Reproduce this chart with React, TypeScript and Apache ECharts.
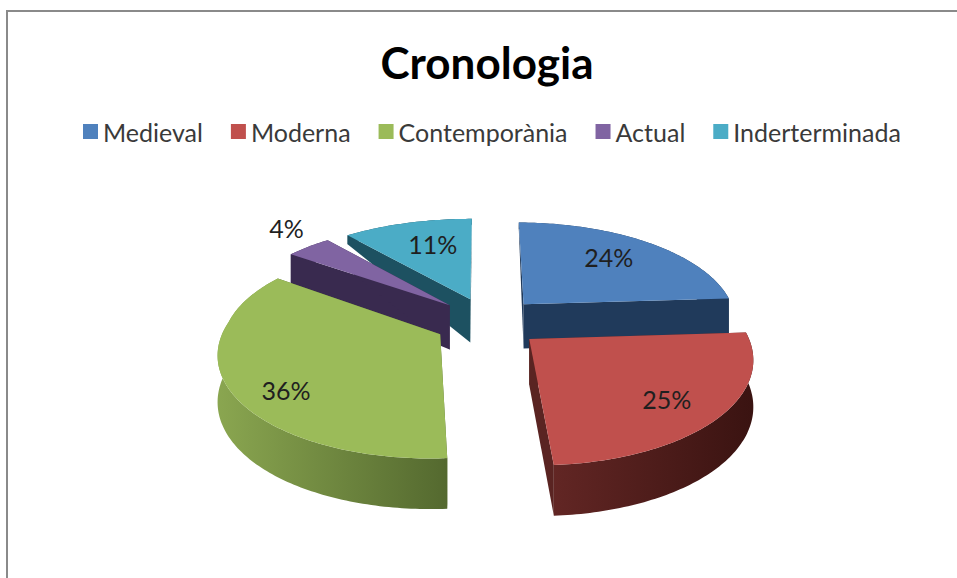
import React, { useEffect, useRef } from "react";
import * as echarts from "echarts";

const titleText = "Cronologia";
const categories = ["Medieval", "Moderna", "Contemporània", "Actual", "Inderterminada"];
const values = [24, 25, 36, 4, 11];

const topColors = ["#4F81BD", "#C0504D", "#9BBB59", "#8064A2", "#4BACC6"];
const cutWallColors = ["#203A5B", "#5A2422", "#54692F", "#392A4F", "#1D5161"];
const rimColors = [
  ["#203A5B", "#1B3250"],
  ["#622624", "#3A1311"],
  ["#8AA650", "#54692F"],
  ["#392A4F", "#392A4F"],
  ["#1D5161", "#1D5161"],
];
const paintOrder = [4, 5, 3, 2, 1];
const labelAngleShift = [-3, 1.5, -9, 4, 3];
const labelRadius = [0.71, 0.76, 0.8, 1.27, 0.68];

const FONT = "Lato, Carlito, 'Open Sans', sans-serif";
const CX = 488, CY = 322, RX = 214, RY = 100, PERSP = 0.16, PERSP_BACK_X = 0.1, EXPLODE = 0.25;

const total = values.reduce((a, b) => a + b, 0);
const rad = (d: number) => (d * Math.PI) / 180;

function project(u: number, v: number): [number, number] {
  const s = 1 / (1 + PERSP * v);
  const sx = v > 0 && u < 0 ? 1 / (1 + PERSP_BACK_X * v) : s;
  return [CX + RX * u * sx, CY - RY * v * s];
}

// wall height shrinks towards the back of the pie
function wallHeight(v: number): number {
  const stops: [number, number][] = [[-1.2, 51], [0.2, 44], [0.76, 30], [1.0, 9], [1.3, 5]];
  if (v <= stops[0][0]) return stops[0][1];
  for (let i = 1; i < stops.length; i++) {
    if (v <= stops[i][0]) {
      const t = (v - stops[i - 1][0]) / (stops[i][0] - stops[i - 1][0]);
      return stops[i - 1][1] + t * (stops[i][1] - stops[i - 1][1]);
    }
  }
  return stops[stops.length - 1][1];
}

function sliceItem(index: number, value: number) {
  let start = 0;
  for (let i = 0; i < index; i++) start += (values[i] / total) * 360;
  const sweep = (value / total) * 360;
  const mid = start + sweep / 2;
  const ou = EXPLODE * Math.sin(rad(mid));
  const ov = EXPLODE * Math.cos(rad(mid));

  const plane = (deg: number, r: number): [number, number] => [
    ou + r * Math.sin(rad(deg)),
    ov + r * Math.cos(rad(deg)),
  ];
  const up = (p: [number, number]) => project(p[0], p[1]);
  const down = (p: [number, number]): [number, number] => {
    const q = project(p[0], p[1]);
    return [q[0], q[1] + wallHeight(p[1])];
  };

  const apex = plane(0, 0);
  const arc: [number, number][] = [];
  const steps = Math.max(6, Math.ceil(sweep));
  for (let i = 0; i <= steps; i++) arc.push(plane(start + (sweep * i) / steps, 1));

  const gradient = (a: string, b: string) =>
    new echarts.graphic.LinearGradient(0, 0, 1, 0, [
      { offset: 0, color: a },
      { offset: 1, color: b },
    ]);

  const rimPoints = [...arc.map(up), ...arc.slice().reverse().map(down)];
  const wallStart = [up(apex), up(arc[0]), down(arc[0]), down(apex)];
  const wallEnd = [up(apex), up(arc[arc.length - 1]), down(arc[arc.length - 1]), down(apex)];
  const topPoints = [up(apex), ...arc.map(up)];

  const lp = plane(mid + labelAngleShift[index], labelRadius[index]);
  const [lx, ly] = up(lp);

  return {
    type: "group",
    children: [
      { type: "polygon", shape: { points: rimPoints }, style: { fill: gradient(rimColors[index][0], rimColors[index][1]) } },
      { type: "polygon", shape: { points: wallStart }, style: { fill: cutWallColors[index] } },
      { type: "polygon", shape: { points: wallEnd }, style: { fill: cutWallColors[index] } },
      { type: "polygon", shape: { points: topPoints }, style: { fill: topColors[index] } },
      {
        type: "text",
        style: {
          text: `${Math.round((value / total) * 100)}%`,
          x: lx,
          y: ly,
          align: "center",
          verticalAlign: "middle",
          fontSize: 25,
          fontFamily: FONT,
          fill: "#1F1F1F",
        },
      },
    ],
  };
}

export default function App() {
  const ref = useRef<HTMLDivElement>(null);
  useEffect(() => {
    if (!ref.current) return;
    const chart = echarts.init(ref.current, undefined, { renderer: "svg" });
    chart.setOption({
      animation: false,
      backgroundColor: "#FFFFFF",
      title: {
        text: titleText,
        left: 482,
        top: 35,
        textAlign: "center",
        textStyle: { fontFamily: FONT, fontSize: 44, fontWeight: "bold", color: "#000000" },
      },
      legend: {
        left: 83,
        top: 119,
        padding: 0,
        icon: "rect",
        itemWidth: 15,
        itemHeight: 15,
        itemGap: 28,
        data: categories,
        textStyle: { fontFamily: FONT, fontSize: 25, color: "#3A3A3A" },
        selectedMode: false,
      },
      graphic: [
        { type: "line", shape: { x1: 6, y1: 11, x2: 957, y2: 11 }, style: { stroke: "#8A8A8A", lineWidth: 2 } },
        { type: "line", shape: { x1: 7, y1: 11, x2: 7, y2: 578 }, style: { stroke: "#8A8A8A", lineWidth: 2 } },
      ],
      series: categories.map((name, index) => ({
        type: "custom",
        name,
        coordinateSystem: "none",
        z: paintOrder[index],
        silent: true,
        itemStyle: { color: topColors[index] },
        data: [[values[index]]],
        renderItem: (_: any, api: any) => sliceItem(index, api.value(0)),
      })),
    });
    return () => chart.dispose();
  }, []);
  return <div ref={ref} style={{ position: "fixed", left: 0, top: 0, width: 957, height: 578 }} />;
}
